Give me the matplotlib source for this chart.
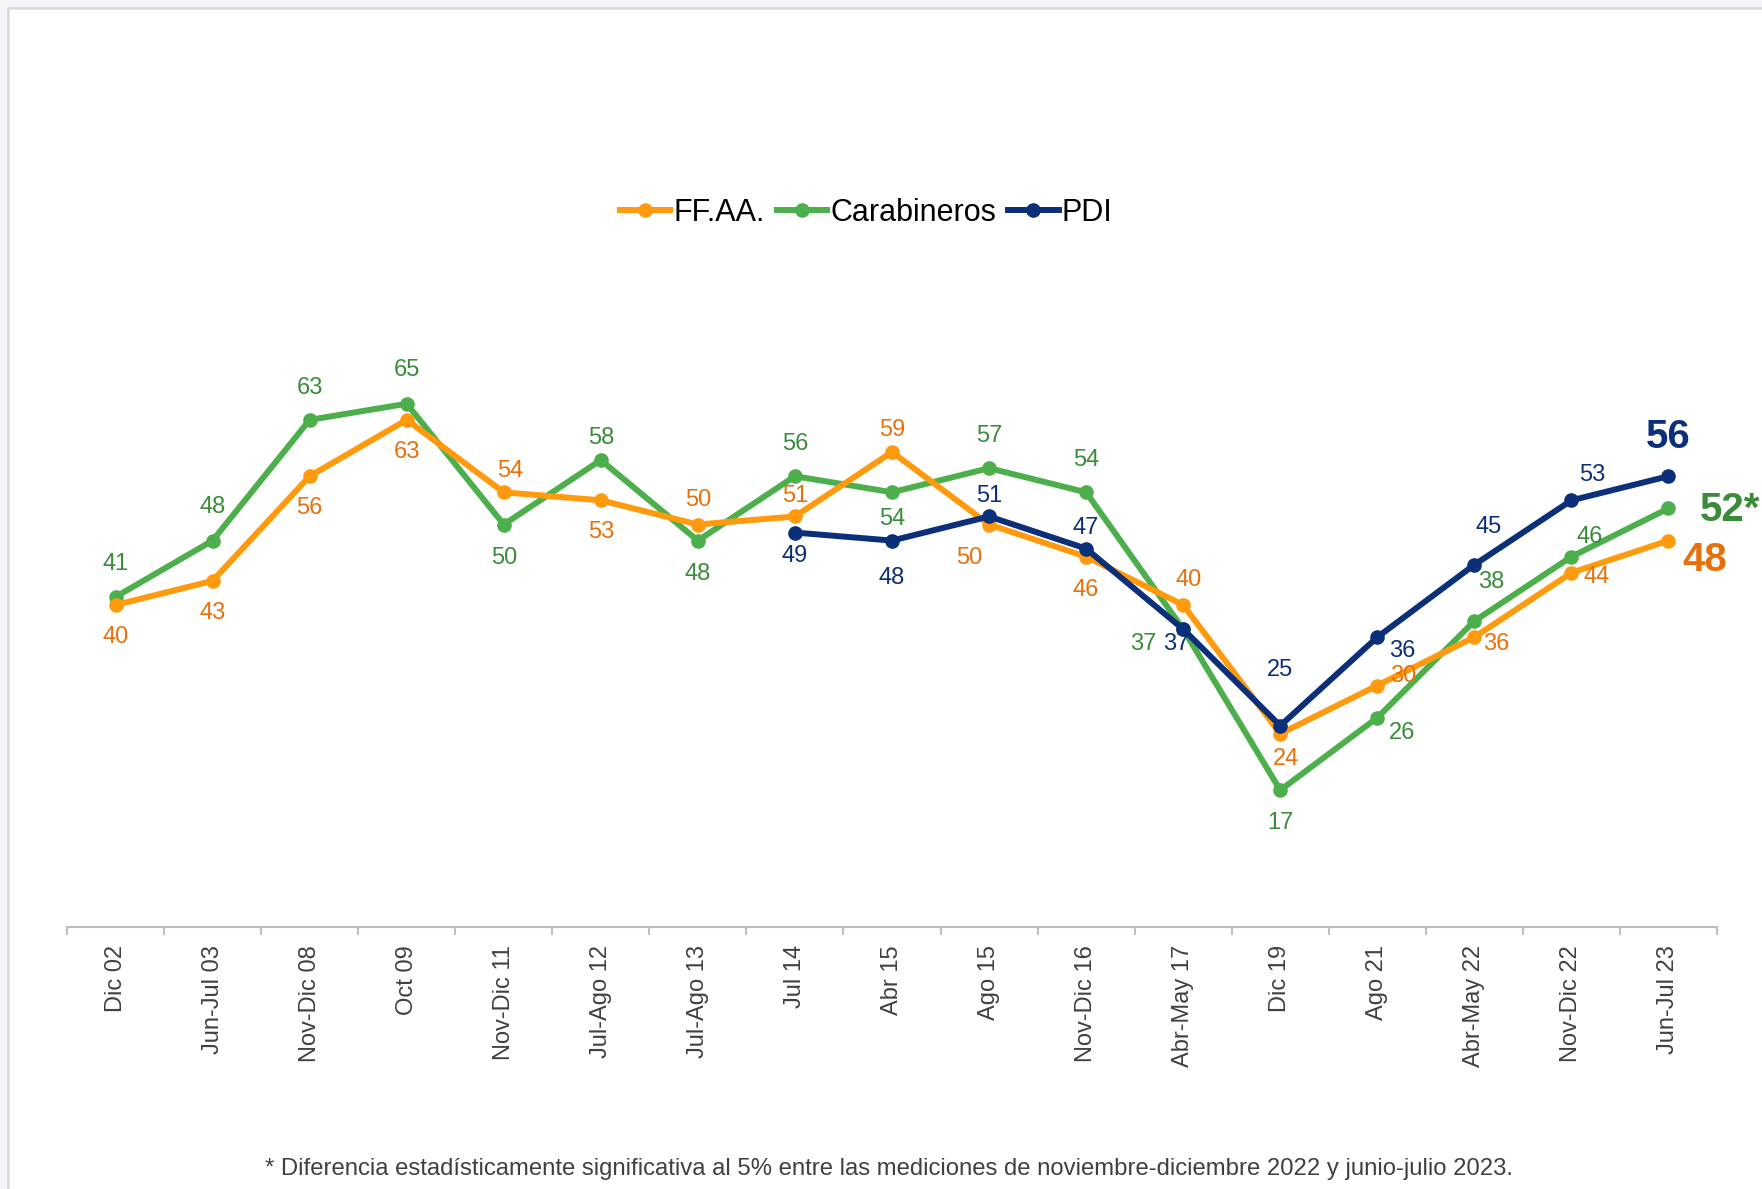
import numpy as np
import matplotlib.pyplot as plt
from matplotlib.patches import Rectangle

plt.rcParams['font.family'] = ['Liberation Sans', 'DejaVu Sans']

periods = ['Dic 02', 'Jun-Jul 03', 'Nov-Dic 08', 'Oct 09', 'Nov-Dic 11', 'Jul-Ago 12',
           'Jul-Ago 13', 'Jul 14', 'Abr 15', 'Ago 15', 'Nov-Dic 16', 'Abr-May 17',
           'Dic 19', 'Ago 21', 'Abr-May 22', 'Nov-Dic 22', 'Jun-Jul 23']
ffaa = [40, 43, 56, 63, 54, 53, 50, 51, 59, 50, 46, 40, 24, 30, 36, 44, 48]
carabineros = [41, 48, 63, 65, 50, 58, 48, 56, 54, 57, 54, 37, 17, 26, 38, 46, 52]
pdi = [None] * 7 + [49, 48, 51, 47, 37, 25, 36, 45, 53, 56]

ORANGE_LINE, ORANGE_TXT = '#FF9A0E', '#E8700C'
GREEN_LINE, GREEN_TXT = '#4CAF4C', '#3A8C3A'
NAVY = '#0B2F78'

# label offsets in points (dx, dy)
off_ffaa = [(0, -23), (0, -23), (0, -23), (0, -23), (5, 15), (0, -23), (0, 18), (0, 15),
            (0, 16), (-14, -24), (0, -24), (4, 18), (4, -18), (19, 7), (16, -5), (18, -3)]
off_car = [(0, 24), (0, 24), (0, 23), (0, 24), (0, -24), (0, 16), (0, -24), (0, 23),
           (0, -19), (0, 23), (0, 23), (-29, -11), (0, -24), (18, -11), (12, 28), (13, 14)]
off_pdi = [(0, -17), (0, -27), (0, 15), (0, 15), (-5, -11), (0, 40), (18, -10),
           (10, 27), (15, 18)]

fig = plt.figure(figsize=(17.62, 11.89), dpi=100)
fig.patch.set_facecolor('#F4F5F9')
# white slide area with a thin gray border
fig.patches.append(Rectangle((8 / 1762, -0.01), 1.1, 1 - 8 / 1189 + 0.01,
                             transform=fig.transFigure, facecolor='white',
                             edgecolor='#D9D9DC', linewidth=1.8, zorder=-1))

ax = fig.add_axes([67 / 1762, 262 / 1189, 1650 / 1762, 805 / 1189])
x = np.arange(len(periods))

LW, MS = 4.3, 9.5
lf, = ax.plot(x, ffaa, color=ORANGE_LINE, lw=LW, marker='o', ms=MS, zorder=3, label='FF.AA.')
lc, = ax.plot(x, carabineros, color=GREEN_LINE, lw=LW, marker='o', ms=MS, zorder=2,
              label='Carabineros')
xp = x[7:]
yp = [v for v in pdi if v is not None]
lp, = ax.plot(xp, yp, color=NAVY, lw=LW, marker='o', ms=MS, zorder=4, label='PDI')

LBL = 17
for i, (dx, dy) in enumerate(off_ffaa):
    ax.annotate(str(ffaa[i]), (x[i], ffaa[i]), xytext=(dx, dy), textcoords='offset points',
                ha='center', va='center', fontsize=LBL, color=ORANGE_TXT)
for i, (dx, dy) in enumerate(off_car):
    ax.annotate(str(carabineros[i]), (x[i], carabineros[i]), xytext=(dx, dy),
                textcoords='offset points', ha='center', va='center', fontsize=LBL,
                color=GREEN_TXT)
for i, (dx, dy) in enumerate(off_pdi):
    ax.annotate(str(yp[i]), (xp[i], yp[i]), xytext=(dx, dy), textcoords='offset points',
                ha='center', va='center', fontsize=LBL, color=NAVY)

# last values highlighted
ax.annotate(str(yp[-1]), (xp[-1], yp[-1]), xytext=(0, 28), textcoords='offset points',
            ha='center', va='center', fontsize=29, fontweight='bold', color=NAVY)
ax.annotate(str(carabineros[-1]) + '*', (x[-1], carabineros[-1]), xytext=(44, -1),
            textcoords='offset points', ha='center', va='center', fontsize=29,
            fontweight='bold', color=GREEN_TXT)
ax.annotate(str(ffaa[-1]), (x[-1], ffaa[-1]), xytext=(26, -14), textcoords='offset points',
            ha='center', va='center', fontsize=29, fontweight='bold', color=ORANGE_TXT)

ax.set_xlim(-0.5, len(periods) - 0.5)
ax.set_ylim(0, 100)
ax.set_xticks(x)
ax.set_xticklabels(periods, rotation=90, fontsize=17, color='#404040')
ax.set_xticks(np.arange(-0.5, len(periods)), minor=True)
ax.tick_params(axis='x', which='major', length=0, pad=13)
ax.tick_params(axis='x', which='minor', length=6, color='#BFBFBF', width=1.5)
ax.set_yticks([])
for s in ['top', 'right', 'left']:
    ax.spines[s].set_visible(False)
ax.spines['bottom'].set_color('#BFBFBF')
ax.spines['bottom'].set_linewidth(1.5)
ax.patch.set_visible(False)

fig.legend(handles=[lf, lc, lp], loc='center', bbox_to_anchor=(866 / 1762, 1 - 213 / 1189),
           ncol=3, frameon=False, fontsize=22, handlelength=1.65, handletextpad=0.1,
           columnspacing=0.4)

fig.text(889 / 1762, 1 - 1169 / 1189,
         '* Diferencia estadísticamente significativa al 5% entre las mediciones de '
         'noviembre-diciembre 2022 y junio-julio 2023.',
         ha='center', va='center', fontsize=17.2, color='#404040')

fig.savefig('out.png', dpi=100, facecolor=fig.get_facecolor())
